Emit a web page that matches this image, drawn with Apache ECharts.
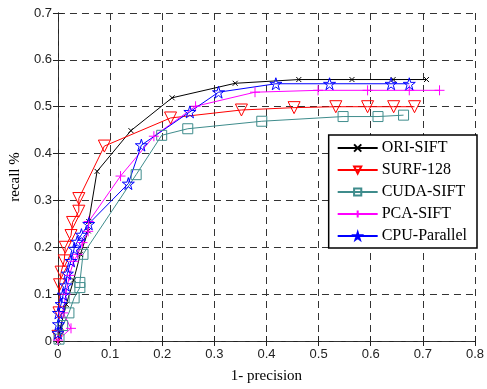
<!DOCTYPE html>
<html>
<head>
<meta charset="utf-8">
<script src="https://cdn.jsdelivr.net/npm/echarts@6/dist/echarts.min.js"></script>
<style>
  html, body { margin: 0; padding: 0; background: #fff; }
  #main { width: 487px; height: 389px; }
</style>
</head>
<body>
<div id="main"></div>
<script>
// curves, [1-precision, recall]
var oriSift = [[0, 0], [0.005, 0.03], [0.016, 0.078], [0.03, 0.13], [0.043, 0.185], [0.058, 0.235], [0.059, 0.255], [0.075, 0.362], [0.14, 0.449], [0.219, 0.519], [0.34, 0.55], [0.462, 0.558], [0.564, 0.558], [0.643, 0.558], [0.707, 0.558]];
var surf128 = [[0, 0.01], [0.002, 0.06], [0.003, 0.12], [0.006, 0.147], [0.012, 0.171], [0.014, 0.2], [0.025, 0.225], [0.028, 0.253], [0.04, 0.277], [0.04, 0.304], [0.089, 0.416], [0.216, 0.476], [0.352, 0.493], [0.453, 0.498], [0.533, 0.5], [0.594, 0.5], [0.644, 0.5], [0.684, 0.5]];
var cudaSift = [[0.002, 0.004], [0.009, 0.033], [0.021, 0.06], [0.031, 0.092], [0.042, 0.114], [0.042, 0.125], [0.048, 0.185], [0.15, 0.355], [0.199, 0.439], [0.249, 0.453], [0.391, 0.469], [0.547, 0.479], [0.614, 0.479], [0.663, 0.482]];
var pcaSift = [[0, 0.002], [0.025, 0.027], [0.01, 0.06], [0.015, 0.1], [0.022, 0.14], [0.03, 0.17], [0.038, 0.185], [0.047, 0.21], [0.058, 0.234], [0.059, 0.255], [0.12, 0.352], [0.184, 0.437], [0.264, 0.501], [0.378, 0.531], [0.499, 0.535], [0.594, 0.535], [0.674, 0.535], [0.732, 0.535]];
var cpuParallel = [[0, 0.017], [0.001, 0.036], [0.001, 0.06], [0.006, 0.079], [0.01, 0.099], [0.015, 0.119], [0.018, 0.144], [0.025, 0.171], [0.031, 0.197], [0.037, 0.212], [0.045, 0.227], [0.059, 0.25], [0.135, 0.336], [0.16, 0.418], [0.253, 0.489], [0.308, 0.531], [0.418, 0.549], [0.521, 0.549], [0.639, 0.549], [0.674, 0.549]];

var seriesNames = ['ORI-SIFT', 'SURF-128', 'CUDA-SIFT', 'PCA-SIFT', 'CPU-Parallel'];

var crossPath = 'path://M0,0L10,10M10,0L0,10';
var plusPath = 'path://M0,5L10,5M5,0L5,10';
var starPath = 'path://M50,0L61,35L98,35L68,57L79,91L50,70L21,91L32,57L2,35L39,35Z';

var gridDash = { color: '#333', type: [7, 5], width: 1 };
var serif = 'Liberation Serif, Times New Roman, serif';
var sans = 'Liberation Sans, Arial, sans-serif';

function mkSeries(name, data, color, symbol, size, extra) {
  var s = {
    name: name,
    type: 'line',
    data: data,
    symbol: symbol,
    symbolSize: size,
    lineStyle: { color: color, width: 1 },
    itemStyle: { color: 'rgba(255,255,255,0)', borderColor: color, borderWidth: 1 },
    animation: false
  };
  if (extra) Object.assign(s, extra);
  return s;
}

var chart = echarts.init(document.getElementById('main'));
chart.setOption({
  backgroundColor: '#fff',
  grid: { left: 52, right: 11, top: 13, bottom: 40 },
  legend: {
    orient: 'vertical',
    right: 10,
    top: 135,
    data: seriesNames,
    backgroundColor: '#fff',
    borderColor: '#000',
    borderWidth: 1.5,
    padding: [5, 10, 4, 8],
    itemWidth: 40,
    itemHeight: 9,
    itemGap: 6,
    textStyle: { fontFamily: serif, fontSize: 16, color: '#000', padding: [0, 0, 0, -1] }
  },
  xAxis: [{
    type: 'value',
    min: 0, max: 0.8, interval: 0.1,
    name: '1- precision',
    nameLocation: 'middle',
    nameGap: 28,
    nameTextStyle: { fontFamily: serif, fontSize: 15, color: '#000' },
    axisLine: { show: true, lineStyle: { color: '#222', width: 1 } },
    axisTick: { show: true, inside: true, length: 5, lineStyle: { color: '#222' } },
    axisLabel: { fontFamily: sans, fontSize: 13, color: '#222', margin: 7 },
    splitLine: { show: true, lineStyle: gridDash }
  }, {
    type: 'value', position: 'top',
    min: 0, max: 0.8, interval: 0.1,
    axisLine: { show: true, lineStyle: gridDash },
    axisTick: { show: true, inside: true, length: 5, lineStyle: { color: '#222' } },
    axisLabel: { show: false },
    splitLine: { show: false }
  }],
  yAxis: [{
    type: 'value',
    min: 0, max: 0.7, interval: 0.1,
    name: 'recall %',
    nameLocation: 'middle',
    nameGap: 33,
    nameTextStyle: { fontFamily: serif, fontSize: 15, color: '#000' },
    axisLine: { show: true, lineStyle: { color: '#222', width: 1 } },
    axisTick: { show: true, inside: true, length: 5, lineStyle: { color: '#222' } },
    axisLabel: { fontFamily: sans, fontSize: 13, color: '#222', margin: 6 },
    splitLine: { show: true, lineStyle: gridDash }
  }, {
    type: 'value', position: 'right',
    min: 0, max: 0.7, interval: 0.1,
    axisLine: { show: true, lineStyle: gridDash },
    axisTick: { show: true, inside: true, length: 5, lineStyle: { color: '#222' } },
    axisLabel: { show: false },
    splitLine: { show: false }
  }],
  series: [
    mkSeries('ORI-SIFT', oriSift, '#000000', crossPath, 5),
    mkSeries('SURF-128', surf128, '#ff0000', 'triangle', 12, { symbolRotate: 180 }),
    mkSeries('CUDA-SIFT', cudaSift, '#3f8c8c', 'rect', 10),
    mkSeries('PCA-SIFT', pcaSift, '#ff00ff', plusPath, 10),
    mkSeries('CPU-Parallel', cpuParallel, '#0000ff', starPath, 12)
  ]
});
</script>
</body>
</html>
